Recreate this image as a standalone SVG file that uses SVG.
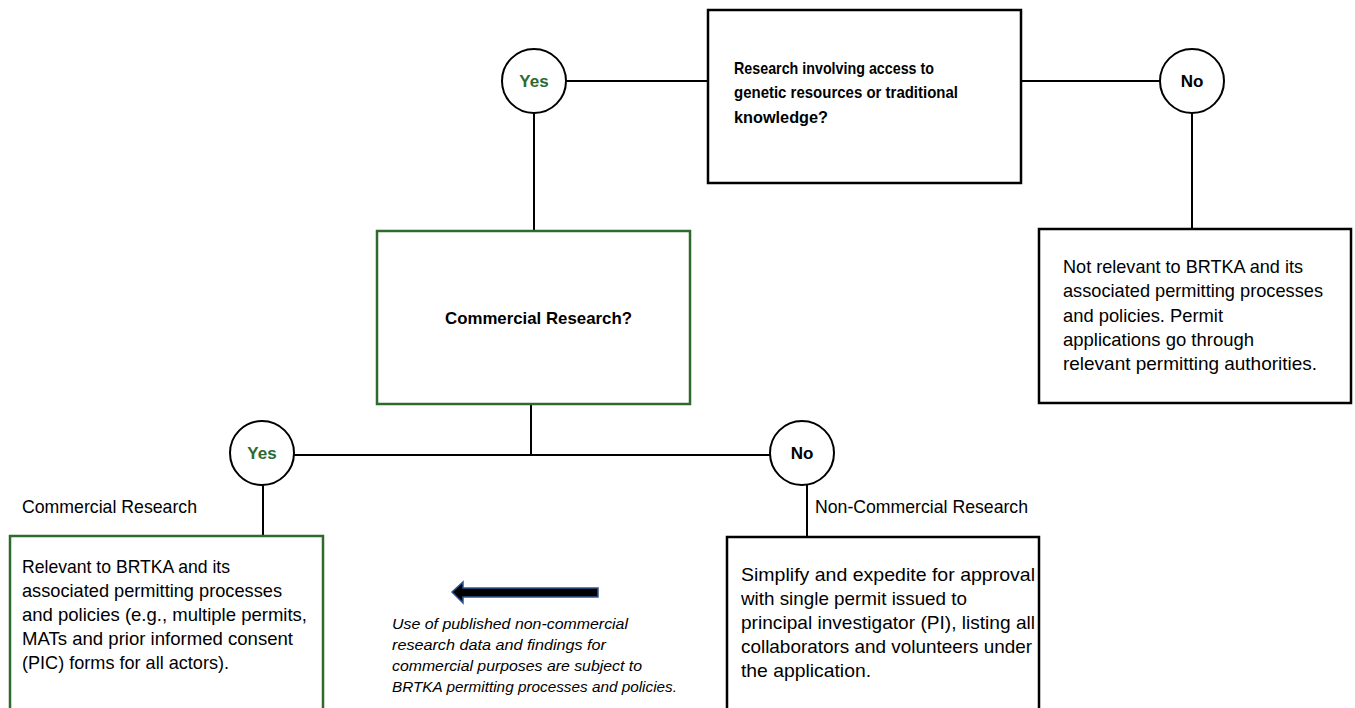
<svg xmlns="http://www.w3.org/2000/svg" width="1355" height="708" viewBox="0 0 1355 708">
<style>
.box{fill:#fff;stroke:#000;stroke-width:2.5}
.gbox{fill:#fff;stroke:#2e6a2e;stroke-width:2.5}
.circ{fill:#fff;stroke:#000;stroke-width:2}
.ln{stroke:#000;stroke-width:2;fill:none}
text{font-family:"Liberation Sans",Arial,sans-serif;fill:#000}
.b{font-weight:bold;font-size:17px}
.yes{font-weight:bold;font-size:17px;fill:#2e6a2e}
.t{font-size:18.5px}
.i{font-style:italic;font-size:15.5px}
</style>
<g id="connectors">
<line class="ln" x1="566" y1="81" x2="708" y2="81"/>
<line class="ln" x1="1021" y1="81" x2="1160" y2="81"/>
<line class="ln" x1="534" y1="113" x2="534" y2="231"/>
<line class="ln" x1="1192" y1="113" x2="1192" y2="229"/>
<line class="ln" x1="531" y1="404" x2="531" y2="455"/>
<line class="ln" x1="294" y1="455" x2="770" y2="455"/>
<line class="ln" x1="263" y1="485" x2="263" y2="536"/>
<line class="ln" x1="807" y1="485" x2="807" y2="537"/>
</g>
<g id="q1">
<rect class="box" x="708" y="10" width="313" height="173"/>
<text class="b" x="734" y="74" textLength="200" lengthAdjust="spacingAndGlyphs">Research involving access to</text>
<text class="b" x="734" y="98" textLength="224" lengthAdjust="spacingAndGlyphs">genetic resources or traditional</text>
<text class="b" x="734" y="123" textLength="94" lengthAdjust="spacingAndGlyphs">knowledge?</text>
</g>
<g id="yes1">
<circle class="circ" cx="534" cy="81" r="32"/>
<text class="yes" x="534" y="87" text-anchor="middle">Yes</text>
</g>
<g id="no1">
<circle class="circ" cx="1192" cy="81" r="32"/>
<text class="b" x="1192" y="87" text-anchor="middle">No</text>
</g>
<g id="notrelevant">
<rect class="box" x="1039" y="229" width="312" height="174"/>
<text class="t" x="1063" y="273" textLength="240" lengthAdjust="spacingAndGlyphs">Not relevant to BRTKA and its</text>
<text class="t" x="1063" y="297" textLength="260" lengthAdjust="spacingAndGlyphs">associated permitting processes</text>
<text class="t" x="1063" y="322" textLength="160" lengthAdjust="spacingAndGlyphs">and policies. Permit</text>
<text class="t" x="1063" y="346" textLength="191" lengthAdjust="spacingAndGlyphs">applications go through</text>
<text class="t" x="1063" y="370" textLength="254" lengthAdjust="spacingAndGlyphs">relevant permitting authorities.</text>
</g>
<g id="q2">
<rect class="gbox" x="377" y="231" width="313" height="173"/>
<text class="b" x="445" y="324" textLength="187" lengthAdjust="spacingAndGlyphs">Commercial Research?</text>
</g>
<g id="yes2">
<circle class="circ" cx="262" cy="453" r="32"/>
<text class="yes" x="262" y="459" text-anchor="middle">Yes</text>
</g>
<g id="no2">
<circle class="circ" cx="802" cy="453" r="32"/>
<text class="b" x="802" y="459" text-anchor="middle">No</text>
</g>
<g id="commercial">
<text class="t" x="22" y="513" textLength="175" lengthAdjust="spacingAndGlyphs">Commercial Research</text>
<rect class="gbox" x="10" y="536" width="313" height="190"/>
<text class="t" x="22" y="573" textLength="208" lengthAdjust="spacingAndGlyphs">Relevant to BRTKA and its</text>
<text class="t" x="22" y="597" textLength="260" lengthAdjust="spacingAndGlyphs">associated permitting processes</text>
<text class="t" x="22" y="621" textLength="285" lengthAdjust="spacingAndGlyphs">and policies (e.g., multiple permits,</text>
<text class="t" x="22" y="645" textLength="271" lengthAdjust="spacingAndGlyphs">MATs and prior informed consent</text>
<text class="t" x="22" y="669" textLength="207" lengthAdjust="spacingAndGlyphs">(PIC) forms for all actors).</text>
</g>
<g id="noncommercial">
<text class="t" x="815" y="513" textLength="213" lengthAdjust="spacingAndGlyphs">Non-Commercial Research</text>
<rect class="box" x="727" y="537" width="312" height="190"/>
<text class="t" x="741" y="581" textLength="294" lengthAdjust="spacingAndGlyphs">Simplify and expedite for approval</text>
<text class="t" x="741" y="605" textLength="226" lengthAdjust="spacingAndGlyphs">with single permit issued to</text>
<text class="t" x="741" y="629" textLength="294" lengthAdjust="spacingAndGlyphs">principal investigator (PI), listing all</text>
<text class="t" x="741" y="653" textLength="291" lengthAdjust="spacingAndGlyphs">collaborators and volunteers under</text>
<text class="t" x="741" y="677" textLength="130" lengthAdjust="spacingAndGlyphs">the application.</text>
</g>
<g id="note">
<polygon points="452,592 463,582 463,588 598,588 598,597 463,597 463,603" fill="#000" stroke="#2f5597" stroke-width="1.5" stroke-linejoin="miter"/>
<text class="i" x="392" y="629" textLength="236" lengthAdjust="spacingAndGlyphs">Use of published non-commercial</text>
<text class="i" x="392" y="650" textLength="214" lengthAdjust="spacingAndGlyphs">research data and findings for</text>
<text class="i" x="392" y="671" textLength="250" lengthAdjust="spacingAndGlyphs">commercial purposes are subject to</text>
<text class="i" x="392" y="692" textLength="285" lengthAdjust="spacingAndGlyphs">BRTKA permitting processes and policies.</text>
</g>
</svg>
